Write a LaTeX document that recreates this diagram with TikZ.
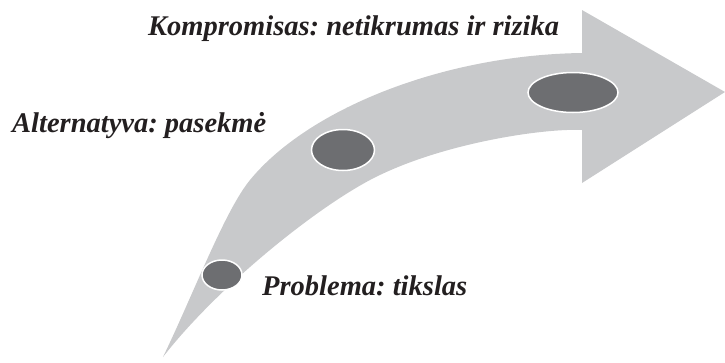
\documentclass[tikz,border=0pt]{standalone}
\usepackage{fontspec}
\setmainfont{Liberation Serif}
\usetikzlibrary{shapes.geometric}

\definecolor{arrowgray}{RGB}{200,201,203}
\definecolor{stonegray}{RGB}{109,110,113}
\definecolor{inkblack}{RGB}{35,31,32}

\frenchspacing

\begin{document}
\begin{tikzpicture}[x=1pt, y=-1pt,
  stone/.style   = {draw=white, line width=1.5pt, ellipse, fill=stonegray, inner sep=0pt},
  caption/.style = {anchor=base west, inner sep=0pt, text=inkblack,
                    font=\fontsize{28.5}{31}\selectfont\bfseries\itshape}
]
  \useasboundingbox (0,0) rectangle (725,362);

  % curved arrow
  \fill[arrowgray] (163,357)
     .. controls (193,295) and (224.6,210.9) .. (250,180)
     .. controls (307,110.5) and (440,55) .. (582,53)
     -- (582,10) -- (725,92) -- (582,183) -- (582,130)
     .. controls (545,128) and (440,143) .. (370,180)
     .. controls (310,212) and (215,290) .. (163,357) -- cycle;

  % stepping stones
  \node[stone, minimum width=40pt, minimum height=30pt] (small)  at (222,275)  {};
  \node[stone, minimum width=63pt, minimum height=41pt] (middle) at (343,150)  {};
  \node[stone, minimum width=90pt, minimum height=40pt] (big)    at (573,92.5) {};

  \node[caption] (problem)     at (262,295) {Problema: tikslas};
  \node[caption] (alternative) at (12,132)  {Alternatyva: pasekmė};
  \node[caption] (compromise)  at (148,35)  {Kompromisas: netikrumas ir rizika};
\end{tikzpicture}
\end{document}
